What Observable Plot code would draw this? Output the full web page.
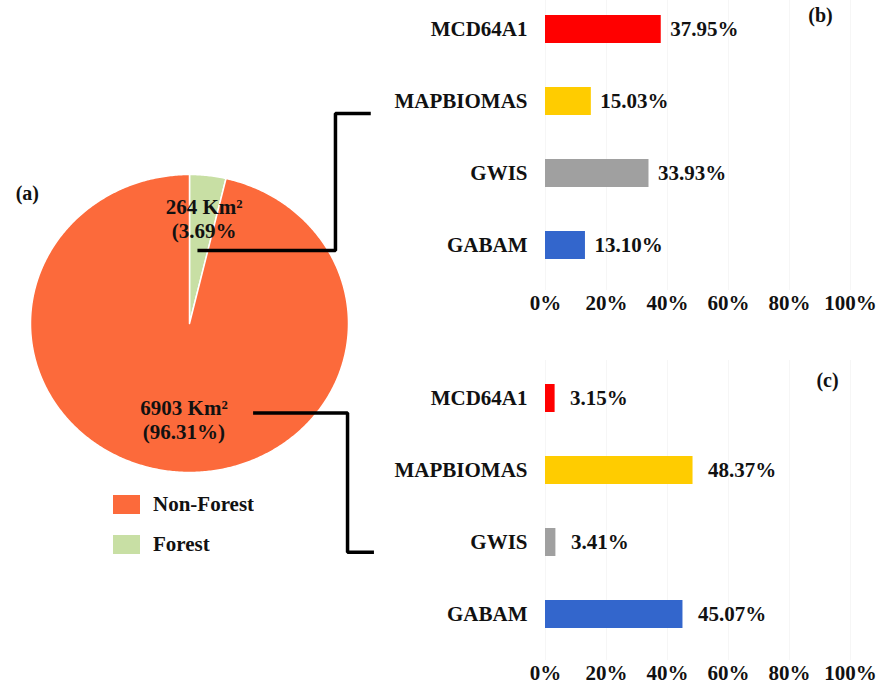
<!DOCTYPE html>
<html><head><meta charset="utf-8">
<script src="https://cdn.jsdelivr.net/npm/d3@7"></script>
<script src="https://cdn.jsdelivr.net/npm/@observablehq/plot@0.6"></script>
<style>
body{margin:0;background:#fff;}
#root{position:relative;width:885px;height:685px;font-family:"Liberation Serif","Times New Roman",serif;font-weight:bold;color:#111;}
#root > *{position:absolute;}
#legend > div{margin:0 !important;}
#legend > div > div{height:40px !important;padding:0 !important;display:flex !important;align-items:center !important;}
#legend > div > div > svg{margin-right:13px !important;}
</style></head><body><div id="root"></div>
<script>
// ---- data ----
const pieCategories = ["Forest", "Non-Forest"];
const pieAreas = [264, 6903];
const piePercents = [3.69, 96.31];
const pieLabels = ["264 Km²\n(3.69%", "6903 Km²\n(96.31%)"];
const pieColors = ["#C8DFA4", "#FC6A3B"];
const legendOrder = ["Non-Forest", "Forest"];

const barCategories = ["MCD64A1", "MAPBIOMAS", "GWIS", "GABAM"];
const barColors = ["#FF0000", "#FFCC00", "#A0A0A0", "#3366CC"];
const forestShares = [37.95, 15.03, 33.93, 13.10];     // panel (b)
const nonForestShares = [3.15, 48.37, 3.41, 45.07];    // panel (c)
const xTicks = [0, 20, 40, 60, 80, 100];

const FONT = "'Liberation Serif','Times New Roman',serif";
const root = document.getElementById("root");

// ---- pie (a) ----
let acc = 0;
const slices = pieCategories.map((c, i) => {
  const a0 = acc / 100 * 2 * Math.PI; acc += piePercents[i];
  const a1 = acc / 100 * 2 * Math.PI;
  return {c, i, a0, a1, mid: (a0 + a1) / 2, label: pieLabels[i]};
});
function slicePoints(s) {
  const n = Math.max(4, Math.ceil((s.a1 - s.a0) / 0.01));
  const arr = [{x: 0, y: 0}];
  for (let k = 0; k <= n; k++) {
    const a = s.a0 + (s.a1 - s.a0) * k / n;
    arr.push({x: Math.sin(a), y: Math.cos(a)});
  }
  arr.push({x: 0, y: 0});
  return arr;
}
const labelRadius = [0.71, 0.645];
const labelShift = [0.01, 0.04];
// connector elbows (pie units) from slice label to bar panels
const connectors = [
  [[0.05, 0.49], [0.918, 0.49], [0.918, 1.41], [1.14, 1.41]],
  [[0.40, -0.60], [0.994, -0.60], [0.994, -1.535], [1.16, -1.535]]
].map(p => p.map(([x, y]) => ({x, y})));

const pie = Plot.plot({
  width: 885, height: 685, margin: 0,
  style: {background: "transparent", fontFamily: FONT, fontWeight: "bold", fontSize: "21px", color: "#111"},
  x: {domain: [-1, 1], range: [30, 348], axis: null},
  y: {domain: [-1, 1], range: [472, 174], axis: null},
  marks: [
    ...slices.map(s => Plot.line(slicePoints(s), {x: "x", y: "y", fill: pieColors[s.i], stroke: "white", strokeWidth: 1.5})),
    Plot.text(slices, {
      x: s => Math.sin(s.mid) * labelRadius[s.i] + labelShift[s.i],
      y: s => Math.cos(s.mid) * labelRadius[s.i],
      text: "label", lineHeight: 1.15, fontSize: 21, fill: "#111"
    }),
    ...connectors.map(p => Plot.line(p, {x: "x", y: "y", stroke: "#000", strokeWidth: 3.5, strokeLinejoin: "miter", strokeLinecap: "butt"})),
    Plot.text(["(a)"], {x: -1.02, y: 0.87, fontSize: 20, fill: "#111"})
  ]
});
pie.style.left = "0px"; pie.style.top = "0px";
root.appendChild(pie);

// ---- bar panels ----
function barChart(values, panel, h, yRange, dxVal, panelDx, panelDy) {
  const rows = values.map((v, i) => ({cat: barCategories[i], v}));
  return Plot.plot({
    width: 515, height: h,
    marginLeft: 175, marginRight: 35, marginTop: 0, marginBottom: 30,
    style: {background: "transparent", fontFamily: FONT, fontWeight: "bold", fontSize: "21px", color: "#111", overflow: "visible"},
    x: {domain: [0, 100], label: null},
    y: {domain: barCategories, range: yRange, paddingInner: 0.61, paddingOuter: 0.305, label: null},
    color: {domain: barCategories, range: barColors},
    marks: [
      Plot.gridX(xTicks, {stroke: "#000", strokeOpacity: 0.035}),
      Plot.barX(rows, {x: "v", y: "cat", fill: "cat"}),
      Plot.text(rows, {x: "v", y: "cat", text: d => d.v.toFixed(2) + "%", dx: dxVal, textAnchor: "start", fill: "#111"}),
      Plot.axisX({ticks: xTicks, tickSize: 0, tickPadding: 5, tickFormat: d => d + "%", fill: "#111", label: null}),
      Plot.axisY({tickSize: 0, tickPadding: 18, fill: "#111", label: null}),
      Plot.text([panel], {frameAnchor: "top-right", dx: panelDx, dy: panelDy, textAnchor: "middle", lineAnchor: "middle", fontSize: 20, fill: "#111"})
    ]
  });
}
const b = barChart(forestShares, "(b)", 320, [-7, 281], 9, -30, 15);
b.style.left = "370px"; b.style.top = "0px";
root.appendChild(b);
const c = barChart(nonForestShares, "(c)", 330, [1, 291], 15, -23, 20);
c.style.left = "370px"; c.style.top = "360px";
root.appendChild(c);

// ---- legend ----
const lg = Plot.legend({
  color: {domain: legendOrder, range: legendOrder.map(k => pieColors[pieCategories.indexOf(k)])},
  legend: "swatches", columns: 1, swatchWidth: 27, swatchHeight: 19,
  style: {fontFamily: FONT, fontWeight: "bold", fontSize: "21px", color: "#111", background: "transparent"}
});
const wrap = document.createElement("div");
wrap.id = "legend";
wrap.style.left = "113px"; wrap.style.top = "484px"; wrap.style.width = "220px";
wrap.appendChild(lg);
root.appendChild(wrap);
</script></body></html>
